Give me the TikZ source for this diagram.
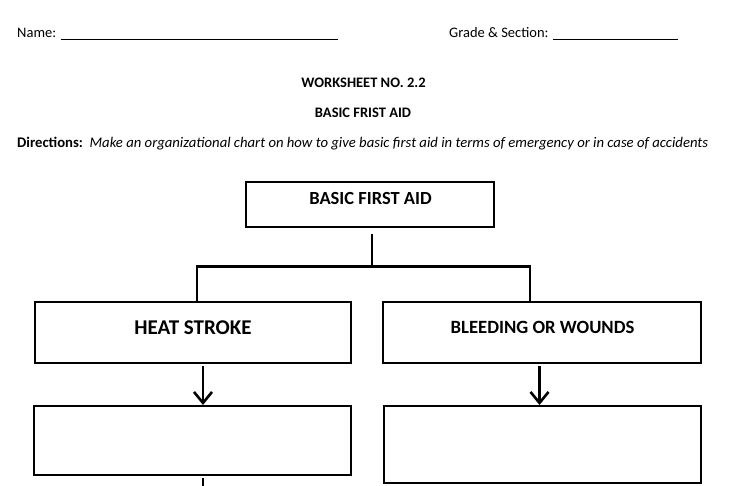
\documentclass[tikz,border=0pt]{standalone}
\usepackage{fontspec}
\setmainfont{Carlito}
\usetikzlibrary{arrows.meta}
\begin{document}
\begin{tikzpicture}[x=1pt,y=-1pt,
  hdr/.style={anchor=base, inner sep=0pt, font=\fontsize{14.5}{16}\selectfont},
  hdrb/.style={hdr, font=\fontsize{14.5}{16}\selectfont\bfseries},
  box/.style={draw, line width=2pt, inner sep=0pt},
  boxtext/.style={anchor=base, inner sep=0pt, font=\bfseries},
  conn/.style={line width=2.6pt},
  arr/.style={line width=2.6pt, -{Straight Barb[length=11pt,width=18pt,line width=2.6pt]}}]
\useasboundingbox (0,0) rectangle (733,486);
\fill[white] (0,0) rectangle (733,486);
% header
\node[hdr, anchor=base west] (name) at (17,38) {Name:};
\coordinate (nameEnd) at (338,40);
\draw[line width=1pt] (61,40) -- (nameEnd);
\node[hdr, anchor=base west] (grade) at (449,38) {Grade \& Section:};
\coordinate (gradeEnd) at (678,40);
\draw[line width=1pt] (553,40) -- (gradeEnd);
\node[hdrb] (ws) at (363.5,87.5) {WORKSHEET NO. 2.2};
\node[hdrb] (bfa) at (363,117.5) {BASIC FRIST AID};
\node[hdr, anchor=base west, font=\fontsize{14.7}{16}\selectfont] (dir) at (17,147.5) {\textbf{Directions:}\ \ \textit{Make an organizational chart on how to give basic first aid in terms of emergency or in case of accidents}};
% boxes
\node[box, minimum width=248pt, minimum height=45pt] (top) at (370,204.5) {};
\node[boxtext, font=\fontsize{18.5}{20}\selectfont\bfseries] (toptext) at (370.5,205) {BASIC FIRST AID};
\node[box, minimum width=316pt, minimum height=61pt] (hs) at (193,332.5) {};
\node[boxtext, font=\fontsize{21}{23}\selectfont\bfseries] (hstext) at (193,334) {HEAT STROKE};
\node[box, minimum width=318pt, minimum height=61pt] (bw) at (542,332.5) {};
\node[boxtext, font=\fontsize{18.7}{21}\selectfont\bfseries] (bwtext) at (542.5,333.5) {BLEEDING OR WOUNDS};
\node[box, minimum width=317pt, minimum height=69pt] (hs2) at (192.5,440.5) {};
\node[box, minimum width=317pt, minimum height=77pt] (bw2) at (542.5,444.5) {};
% tree connectors
\coordinate (jn) at (372,266.5);
\coordinate (jl) at (197,266.5);
\coordinate (jr) at (530,266.5);
\draw[conn] ([yshift=-6pt]top.south -| jn) -- (jn);
\draw[conn, line cap=rect] (jl) -- (jr);
\draw[conn] (jl) -- (jl |- hs.north);
\draw[conn] (jr) -- (jr |- bw.north);
% arrows
\coordinate (a1) at (203,366);
\coordinate (a2) at (539.5,366);
\draw[arr] (a1) -- (a1 |- hs2.north);
\draw[arr] (a2) -- (a2 |- bw2.north);
% continuation below
\coordinate (cont) at (203,486);
\draw[line width=2pt] (203,478) -- (cont);
\end{tikzpicture}
\end{document}
